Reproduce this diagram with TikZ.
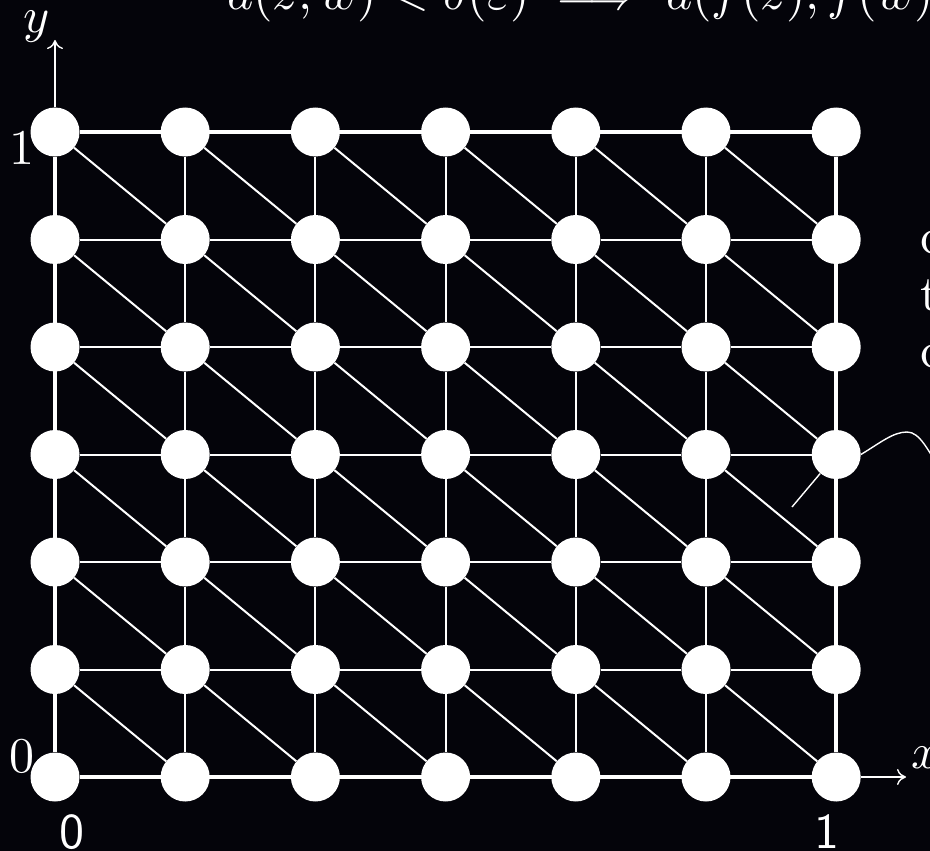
\documentclass[tikz,border=0pt]{standalone}
\usepackage{amsmath}
\usepackage{graphicx}
\usetikzlibrary{arrows.meta}
\definecolor{qink}{RGB}{4,4,10}
\newcommand{\magn}[1]{\scalebox{5}{#1}}

\begin{document}
\begin{tikzpicture}[x=1pt,y=-1pt,
  vtx/.style={circle,fill=white,inner sep=0pt,minimum size=49pt},
  link/.style={white,line width=2pt},
  rim/.style={white,line width=4.2pt},
  ax/.style={white,line width=1.4pt,-{To[length=9pt,width=16pt]}},
  ptr/.style={white,line width=1.4pt},
  lbl/.style={text=white,inner sep=0pt}]
\useasboundingbox (0,0) rectangle (930,851);
\fill[qink] (0,0) rectangle (930,851);
\clip (0,0) rectangle (930,851);
% grid points
\foreach \i in {0,...,6}
  \foreach \j in {0,...,6}
    \node[vtx] (v-\i-\j) at (55+130.2*\i,132+107.5*\j) {};
% triangulation
\foreach \i in {0,...,5}
  \foreach \j in {0,...,5} {
    \pgfmathtruncatemacro{\k}{\i+1}
    \pgfmathtruncatemacro{\m}{\j+1}
    \draw[link] (v-\i-\j) -- (v-\k-\j);
    \draw[link] (v-\i-\j) -- (v-\i-\m);
    \draw[link] (v-\i-\j) -- (v-\k-\m);
  }
\draw[rim] (v-0-0) -- (v-6-0); \draw[rim] (v-0-6) -- (v-6-6);
\draw[rim] (v-0-0) -- (v-0-6); \draw[rim] (v-6-0) -- (v-6-6);
% axes
\coordinate (ytip) at (55,40);
\coordinate (xtip) at (906,777);
\draw[ax] (v-0-0) -- (ytip); \draw[ax] (v-6-6) -- (xtip);
\node[lbl] (ylab) at (37,27) {\magn{$y$}};
\node[lbl] (xlab) at (926,758) {\magn{$x$}};
\node[lbl] (one-l) at (22,148) {\magn{1}};
\node[lbl] (zero-l) at (22,756) {\magn{0}};
\node[lbl] (zero-b) at (72,832) {\magn{\sffamily 0}};
\node[lbl] (one-b) at (827,832) {\magn{\sffamily 1}};
% statement and note
\node[lbl,anchor=base west] (rule) at (227,10) {\magn{$d(z,w)<\delta(\varepsilon)\implies d(f(z),f(w))<\varepsilon$}};
\node[lbl,anchor=base west] (note-a) at (920,253) {\magn{c}};
\node[lbl,anchor=base west] (note-b) at (920,310) {\magn{t}};
\node[lbl,anchor=base west] (note-c) at (920,367) {\magn{c}};
% pointer
\coordinate (tip) at (792,507);
\coordinate (hook) at (945,478);
\draw[ptr] (tip) -- (v-6-3);
\draw[ptr] (v-6-3.east) .. controls (880,443) and (893,432) .. (907,432) .. controls (920,432) and (928,450) .. (hook);
\end{tikzpicture}
\end{document}
